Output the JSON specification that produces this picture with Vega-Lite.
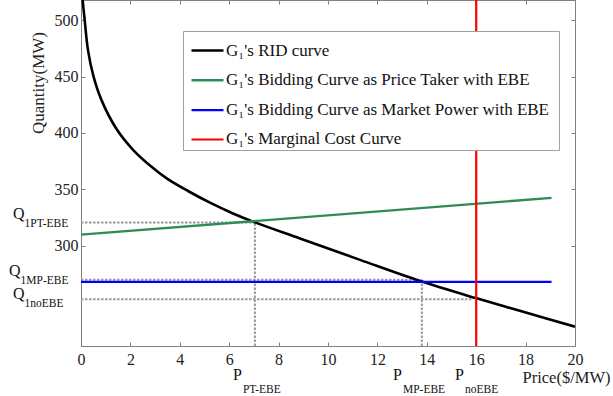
{
  "$schema": "https://vega.github.io/schema/vega-lite/v6.json",
  "width": 494,
  "height": 346,
  "autosize": "none",
  "padding": {"left": 81, "top": 0, "right": 38, "bottom": 50},
  "background": "white",
  "config": {
    "view": {"stroke": "#808080", "strokeWidth": 1},
    "font": "Liberation Serif",
    "axis": {
      "grid": false,
      "domainColor": "#808080",
      "tickColor": "#808080",
      "tickSize": -4,
      "labelFlush": false,
      "labelFont": "Liberation Serif",
      "labelFontSize": 16,
      "labelColor": "#222222",
      "titleFont": "Liberation Serif",
      "titleFontSize": 16.5,
      "titleFontWeight": "normal",
      "titleColor": "#222222"
    },
    "text": {"font": "Liberation Serif", "color": "#111111"}
  },
  "datasets": {
    "curves": [
      {"series": "G₁'s RID curve", "price": 0.02, "quantity": 535.4},
      {"series": "G₁'s RID curve", "price": 0.069, "quantity": 517.7},
      {"series": "G₁'s RID curve", "price": 0.15, "quantity": 500},
      {"series": "G₁'s RID curve", "price": 0.283, "quantity": 473.4},
      {"series": "G₁'s RID curve", "price": 0.506, "quantity": 450.1},
      {"series": "G₁'s RID curve", "price": 0.83, "quantity": 429.1},
      {"series": "G₁'s RID curve", "price": 1.445, "quantity": 403.3},
      {"series": "G₁'s RID curve", "price": 2.117, "quantity": 384.9},
      {"series": "G₁'s RID curve", "price": 2.794, "quantity": 371.2},
      {"series": "G₁'s RID curve", "price": 3.47, "quantity": 359.8},
      {"series": "G₁'s RID curve", "price": 4.332, "quantity": 348.6},
      {"series": "G₁'s RID curve", "price": 5.263, "quantity": 337.8},
      {"series": "G₁'s RID curve", "price": 6.154, "quantity": 328.7},
      {"series": "G₁'s RID curve", "price": 7.045, "quantity": 320.8},
      {"series": "G₁'s RID curve", "price": 8.866, "quantity": 306.6},
      {"series": "G₁'s RID curve", "price": 11.296, "quantity": 287.6},
      {"series": "G₁'s RID curve", "price": 13.794, "quantity": 268.4},
      {"series": "G₁'s RID curve", "price": 16.02, "quantity": 253.5},
      {"series": "G₁'s RID curve", "price": 17.976, "quantity": 241.1},
      {"series": "G₁'s RID curve", "price": 20, "quantity": 228.4},
      {"series": "G₁'s Bidding Curve as Price Taker with EBE", "price": 0, "quantity": 310},
      {"series": "G₁'s Bidding Curve as Price Taker with EBE", "price": 19.05, "quantity": 342.5},
      {"series": "G₁'s Bidding Curve as Market Power with EBE", "price": 0, "quantity": 268.1},
      {"series": "G₁'s Bidding Curve as Market Power with EBE", "price": 19.05, "quantity": 268.1}
    ],
    "mc": [
      {"series": "G₁'s Marginal Cost Curve", "price": 16}
    ],
    "guides": [
      {"x": 0, "x2": 7.04, "y": 320.7, "y2": 320.7},
      {"x": 7.04, "x2": 7.04, "y": 211.3, "y2": 320.7},
      {"x": 0, "x2": 13.8, "y": 270, "y2": 270},
      {"x": 13.8, "x2": 13.8, "y": 211.3, "y2": 270},
      {"x": 0, "x2": 15.8, "y": 252.8, "y2": 252.8}
    ],
    "qlabels": [
      {"main": "Q", "sub": "1PT-EBE", "lx": -2.75, "ly": 323.4},
      {"main": "Q", "sub": "1MP-EBE", "lx": -2.91, "ly": 273.1},
      {"main": "Q", "sub": "1noEBE", "lx": -2.75, "ly": 253.3}
    ],
    "plabels": [
      {"main": "P", "sub": "PT-EBE", "lx": 6.15, "ly": 181.3},
      {"main": "P", "sub": "MP-EBE", "lx": 12.63, "ly": 181.3},
      {"main": "P", "sub": "noEBE", "lx": 15.14, "ly": 181.3}
    ]
  },
  "layer": [
    {
      "data": {"name": "guides"},
      "mark": {"type": "rule", "color": "#9a9a9a", "strokeWidth": 2, "strokeDash": [2.5, 1.5]},
      "encoding": {
        "x": {"field": "x", "type": "quantitative", "scale": {"domain": [0, 20], "nice": false, "zero": false},
              "axis": {"orient": "top", "labels": false, "title": null, "values": [0, 2, 4, 6, 8, 10, 12, 14, 16, 18, 20]}},
        "x2": {"field": "x2"},
        "y": {"field": "y", "type": "quantitative", "scale": {"domain": [211.3, 517.8], "nice": false, "zero": false},
              "axis": {"orient": "right", "labels": false, "title": null, "values": [300, 350, 400, 450, 500]}},
        "y2": {"field": "y2"}
      }
    },
    {
      "layer": [
        {
          "data": {"name": "curves"},
          "mark": {"type": "line", "clip": true, "interpolate": "catmull-rom"},
          "encoding": {
            "x": {"field": "price", "type": "quantitative",
                  "axis": {"orient": "bottom", "values": [0, 2, 4, 6, 8, 10, 12, 14, 16, 18, 20], "labelPadding": 9,
                           "title": "Price($/MW)", "titleX": 441, "titleY": 36, "titleAlign": "left", "titleBaseline": "alphabetic"}},
            "y": {"field": "quantity", "type": "quantitative",
                  "axis": {"orient": "left", "values": [300, 350, 400, 450, 500], "labelPadding": 7,
                           "title": "Quantity(MW)", "titleFontSize": 17, "titleX": -38, "titleY": 82.5, "titleAngle": -90, "titleAlign": "center", "titleBaseline": "alphabetic"}},
            "color": {
              "field": "series", "type": "nominal",
              "scale": {
                "domain": ["G₁'s RID curve", "G₁'s Bidding Curve as Price Taker with EBE", "G₁'s Bidding Curve as Market Power with EBE", "G₁'s Marginal Cost Curve"],
                "range": ["#000000", "#2e8b57", "#0000ff", "#ff0000"]
              },
              "legend": {
                "orient": "none", "legendX": 102, "legendY": 31, "title": "  ",
                "titleOrient": "right", "titleFontSize": 17, "titlePadding": 8,
                "symbolType": "stroke", "symbolSize": 1024, "symbolStrokeWidth": 2, "symbolOffset": 5,
                "labelFont": "Liberation Serif", "labelFontSize": 17, "labelColor": "#111111", "labelLimit": 0,
                "labelOffset": 1, "padding": 2, "rowPadding": 3.8,
                "strokeColor": "#a0a0a0", "fillColor": "white"
              }
            },
            "strokeWidth": {
              "field": "series", "type": "nominal",
              "scale": {
                "domain": ["G₁'s RID curve", "G₁'s Bidding Curve as Price Taker with EBE", "G₁'s Bidding Curve as Market Power with EBE", "G₁'s Marginal Cost Curve"],
                "range": [2.6, 2, 2.2, 2]
              },
              "legend": null
            }
          }
        },
        {
          "data": {"name": "mc"},
          "mark": {"type": "rule", "strokeWidth": 2.2},
          "encoding": {
            "x": {"field": "price", "type": "quantitative"},
            "color": {"field": "series", "type": "nominal"}
          }
        },
        {
          "data": {"name": "qlabels"},
          "mark": {"type": "text", "align": "left", "baseline": "alphabetic", "fontSize": 16},
          "encoding": {
            "x": {"field": "lx", "type": "quantitative"},
            "y": {"field": "ly", "type": "quantitative"},
            "text": {"field": "main"}
          }
        },
        {
          "data": {"name": "qlabels"},
          "mark": {"type": "text", "align": "left", "baseline": "alphabetic", "fontSize": 11.5, "dx": 11.5, "dy": 8},
          "encoding": {
            "x": {"field": "lx", "type": "quantitative"},
            "y": {"field": "ly", "type": "quantitative"},
            "text": {"field": "sub"}
          }
        },
        {
          "data": {"name": "plabels"},
          "mark": {"type": "text", "align": "left", "baseline": "alphabetic", "fontSize": 16},
          "encoding": {
            "x": {"field": "lx", "type": "quantitative"},
            "y": {"field": "ly", "type": "quantitative"},
            "text": {"field": "main"}
          }
        },
        {
          "data": {"name": "plabels"},
          "mark": {"type": "text", "align": "left", "baseline": "alphabetic", "fontSize": 11.5, "dx": 10, "dy": 13.5},
          "encoding": {
            "x": {"field": "lx", "type": "quantitative"},
            "y": {"field": "ly", "type": "quantitative"},
            "text": {"field": "sub"}
          }
        }
      ]
    }
  ],
  "resolve": {"axis": {"x": "independent", "y": "independent"}}
}
